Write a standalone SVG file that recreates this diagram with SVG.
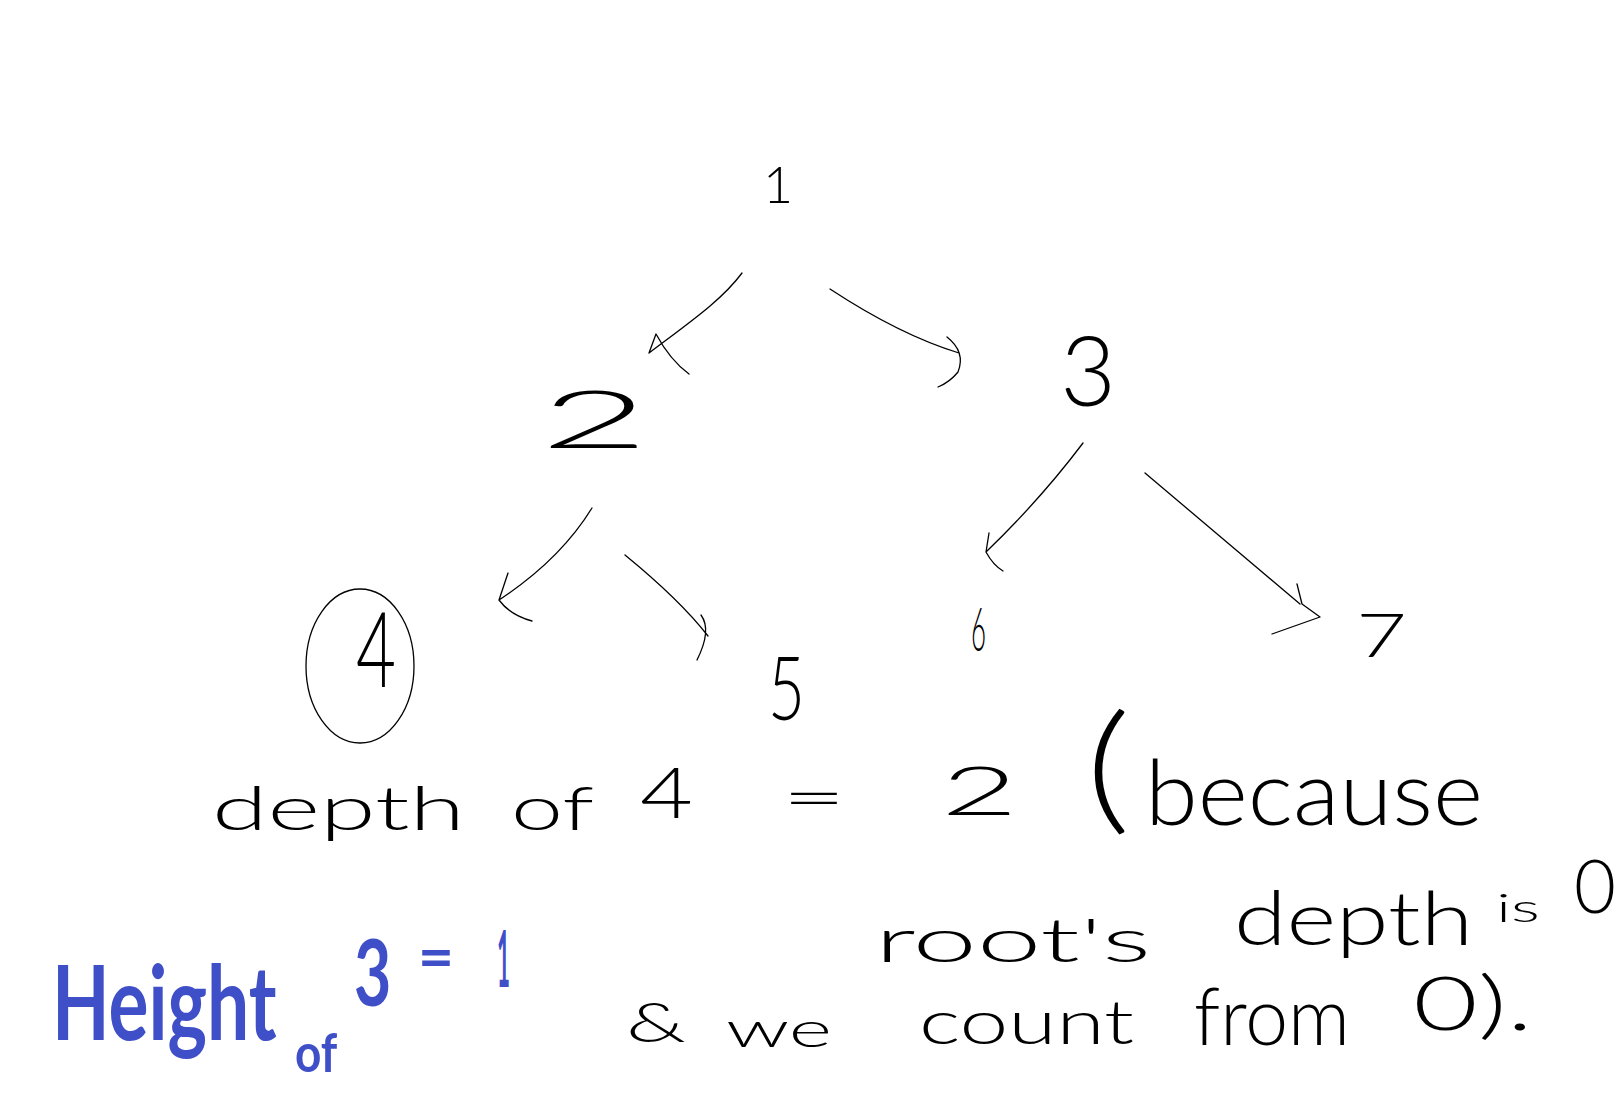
<svg xmlns="http://www.w3.org/2000/svg" width="1621" height="1117" viewBox="0 0 1621 1117">
<style>
.bg{fill:#ffffff}
.ink{font-family:"Lato","Liberation Sans",sans-serif;font-weight:300;fill:#000000}
.blue{font-family:"Lato","Liberation Sans",sans-serif;font-weight:700;fill:#3f4fc8}
.mid{text-anchor:middle}
.edge{fill:none;stroke:#000000;stroke-width:1.3;stroke-linecap:round;stroke-linejoin:round}
.ring{fill:none;stroke:#000000;stroke-width:1.3}
</style>
<rect class="bg" x="0" y="0" width="1621" height="1117"/>
<g id="connectors">
<path class="edge" d="M742,273 C722,300 690,322 649,353 L656,334 Q670,360 689,374"/>
<path class="edge" d="M830,289 Q900,335 959,353 M947,337 Q966,352 958,372 Q950,382 938,387"/>
<path class="edge" d="M592,508 Q560,560 499,600 L508,573 M499,600 Q510,615 532,621"/>
<path class="edge" d="M625,555 Q680,600 708,636 M701,615 Q712,630 697,660"/>
<path class="edge" d="M1083,443 Q1040,500 986,552 L989,533 M986,552 Q993,565 1003,571"/>
<path class="edge" d="M1145,473 L1300,604 M1297,584 L1302,604 L1320,617 L1272,634"/>
</g>
<g id="node-1"><text class="ink mid" x="778" y="203" font-size="52">1</text></g>
<g id="node-2"><text class="ink" x="540" y="448" font-size="80" textLength="109" lengthAdjust="spacingAndGlyphs">2</text></g>
<g id="node-3"><text class="ink mid" x="1088" y="406" font-size="96">3</text></g>
<g id="node-4">
<ellipse class="ring" cx="360" cy="666" rx="54" ry="77"/>
<text class="ink" x="356" y="687" font-size="105" textLength="40" lengthAdjust="spacingAndGlyphs">4</text>
</g>
<g id="node-5"><text class="ink" x="768" y="720" font-size="88" textLength="37" lengthAdjust="spacingAndGlyphs">5</text></g>
<g id="node-6"><text class="ink" x="971" y="651" font-size="61" textLength="15" lengthAdjust="spacingAndGlyphs">6</text></g>
<g id="node-7"><text class="ink" x="1356" y="657" font-size="61" textLength="51" lengthAdjust="spacingAndGlyphs">7</text></g>
<g id="note-depth">
<text class="ink" x="212" y="830" font-size="62" textLength="253" lengthAdjust="spacingAndGlyphs">depth</text>
<text class="ink" x="511" y="830" font-size="62" textLength="83" lengthAdjust="spacingAndGlyphs">of</text>
<text class="ink" x="640" y="818" font-size="70" textLength="53" lengthAdjust="spacingAndGlyphs">4</text>
<text class="ink" x="782" y="818" font-size="60" textLength="64" lengthAdjust="spacingAndGlyphs">=</text>
<text class="ink" x="941" y="815" font-size="67" textLength="77" lengthAdjust="spacingAndGlyphs">2</text>
<text class="ink" x="1085" y="816" font-size="141" textLength="46" lengthAdjust="spacingAndGlyphs">(</text>
<text class="ink" x="1145" y="825" font-size="90" textLength="338" lengthAdjust="spacingAndGlyphs">because</text>
</g>
<g id="note-root">
<text class="ink" x="875" y="962" font-size="62" textLength="276" lengthAdjust="spacingAndGlyphs">root's</text>
<text class="ink" x="1234" y="945" font-size="75" textLength="239" lengthAdjust="spacingAndGlyphs">depth</text>
<text class="ink" x="1496" y="922" font-size="40" textLength="44" lengthAdjust="spacingAndGlyphs">is</text>
<text class="ink" x="1574" y="913" font-size="74" textLength="42" lengthAdjust="spacingAndGlyphs">0</text>
</g>
<g id="note-count">
<text class="ink" x="626" y="1042" font-size="55" textLength="60" lengthAdjust="spacingAndGlyphs">&amp;</text>
<text class="ink" x="726" y="1047" font-size="50" textLength="106" lengthAdjust="spacingAndGlyphs">we</text>
<text class="ink" x="919" y="1044" font-size="62" textLength="215" lengthAdjust="spacingAndGlyphs">count</text>
<text class="ink" x="1194" y="1045" font-size="80" textLength="156" lengthAdjust="spacingAndGlyphs">from</text>
<text class="ink" x="1413" y="1030" font-size="75" textLength="120" lengthAdjust="spacingAndGlyphs">0).</text>
</g>
<g id="note-height">
<text class="blue" transform="translate(52,1040) scale(0.72,1)" x="0" y="0" font-size="104">Height</text>
<text class="blue" transform="translate(295,1072) scale(0.85,1)" x="0" y="0" font-size="54">of</text>
<text class="blue" transform="translate(354,1006) scale(0.7,1)" x="0" y="0" font-size="92">3</text>
<text class="blue" x="418" y="978" font-size="60" textLength="36" lengthAdjust="spacingAndGlyphs">=</text>
<text class="blue" x="497" y="987" font-size="78" textLength="13" lengthAdjust="spacingAndGlyphs">1</text>
</g>
</svg>
